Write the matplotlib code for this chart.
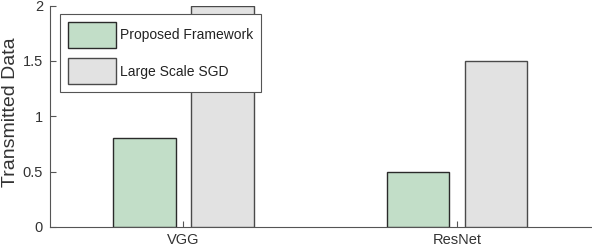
import matplotlib
matplotlib.use("Agg")
import matplotlib.pyplot as plt
import numpy as np

categories = ["VGG", "ResNet"]
series_names = ["Proposed Framework", "Large Scale SGD"]
proposed = [0.8, 0.5]
large_sgd = [2.0, 1.5]
yticks = [0, 0.5, 1, 1.5, 2]
ytick_labels = ["0", "0.5", "1", "1.5", "2"]

plt.rcParams['font.family'] = ['Liberation Sans', 'DejaVu Sans']

W, H = 592, 250
fig = plt.figure(figsize=(W / 100, H / 100), dpi=100)
ax = fig.add_axes([50 / W, 1 - 227 / H, (591 - 50) / W, (227 - 5.5) / H])

x = np.arange(1, len(categories) + 1)
bw = 0.2285
off = 0.1426
b1 = ax.bar(x - off, proposed, bw, color="#c2dec8", edgecolor="#2a2a2a", linewidth=1.0,
            label=series_names[0], zorder=3)
b2 = ax.bar(x + off, large_sgd, bw, color="#e2e2e2", edgecolor="#4a4a4a", linewidth=1.0,
            label=series_names[1], zorder=3)

ax.set_xlim(0.512, 2.49)
ax.set_ylim(0, 2)
ax.set_xticks(x)
ax.set_xticklabels(categories)
ax.set_yticks(yticks)
ax.set_yticklabels(ytick_labels)

axis_col = "#555555"
for s in ["top", "right"]:
    ax.spines[s].set_visible(False)
for s in ["left", "bottom"]:
    ax.spines[s].set_color(axis_col)
    ax.spines[s].set_linewidth(0.8)
ax.tick_params(direction="in", length=4, width=0.8, color=axis_col,
               labelcolor="#333333", labelsize=10.5)
ax.tick_params(axis="y", pad=5)
ax.tick_params(axis="x", pad=4)
ax.set_ylabel("Transmitted Data", fontsize=14, color="#333333")
ax.yaxis.set_label_coords((19 - 50) / 541, 0.52)

leg = ax.legend(loc="upper left", bbox_to_anchor=(60 / W, 1 - 14 / H),
                bbox_transform=fig.transFigure, borderaxespad=0,
                fontsize=10, handlelength=3.5, handleheight=2.5,
                labelspacing=0.78, borderpad=0.55, handletextpad=0.3,
                fancybox=False, framealpha=1, edgecolor="#555555")
leg.get_frame().set_linewidth(0.8)
for t in leg.get_texts():
    t.set_color("#222222")

fig.savefig("out.png", dpi=100)
